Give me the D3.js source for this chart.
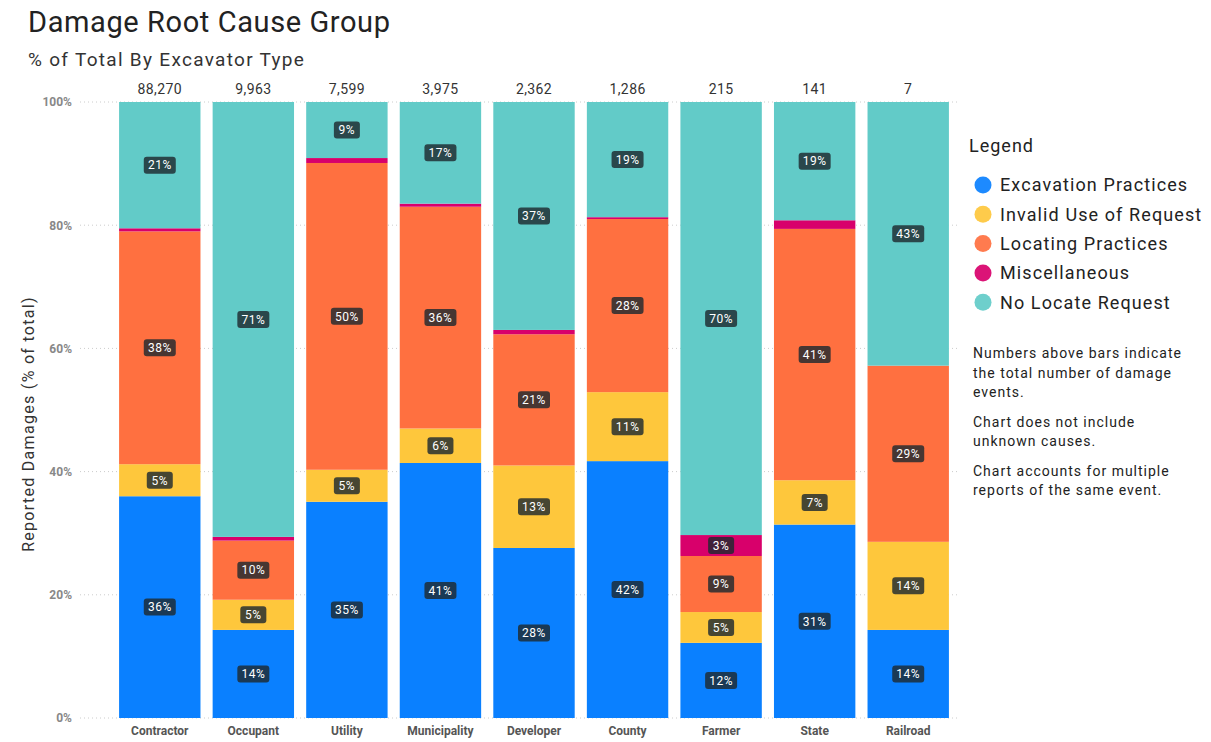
<!DOCTYPE html>
<html><head><meta charset="utf-8">
<script src="https://cdn.jsdelivr.net/npm/d3@7"></script>
<style>body{margin:0;background:#fff;}svg{display:block;font-family:Roboto,"DejaVu Sans",sans-serif;}</style>
</head><body><svg id="c" width="1211" height="742"></svg>
<script>
const categories = ["Contractor","Occupant","Utility","Municipality","Developer","County","Farmer","State","Railroad"];
const totals = ["88,270","9,963","7,599","3,975","2,362","1,286","215","141","7"];
const seriesNames = ["Excavation Practices","Invalid Use of Request","Locating Practices","Miscellaneous","No Locate Request"];
const excavation = [36.0,14.3,35.1,41.4,27.6,41.7,12.2,31.4,14.3];
const invalidUse = [5.2,4.9,5.2,5.6,13.4,11.2,5.0,7.2,14.3];
const locating   = [37.8,9.6,49.8,36.0,21.3,28.1,9.1,40.8,28.6];
const misc       = [0.5,0.6,0.8,0.5,0.7,0.3,3.4,1.4,0.0];
const noLocate   = [20.5,70.6,9.1,16.5,37.0,18.7,70.3,19.2,42.8];
const yTicks = [0,20,40,60,80,100];
const notes = [["Numbers above bars indicate","the total number of damage","events."],["Chart does not include","unknown causes."],["Chart accounts for multiple","reports of the same event."]];
const colors = ["#0A80FF","#FEC73C","#FF7040","#D8006B","#62CBC8"];

const seriesVals = [excavation,invalidUse,locating,misc,noLocate];
const rows = categories.map((c,i)=>{const o={cat:c}; seriesNames.forEach((s,j)=>o[s]=seriesVals[j][i]); return o;});
const stack = d3.stack().keys(seriesNames)(rows);

const svg = d3.select("#c");
const x = d3.scaleBand().domain(categories).range([113,955]).paddingInner(0.13).paddingOuter(0.065);
const y = d3.scaleLinear().domain([0,100]).range([718,102]);

// title
svg.append("text").attr("x",28).attr("y",32).attr("font-size",29).attr("letter-spacing",0.6).attr("fill","#222").text("Damage Root Cause Group");
svg.append("text").attr("x",28).attr("y",66).attr("font-size",19).attr("letter-spacing",1.3).attr("fill","#333").text("% of Total By Excavator Type");

// grid
const g = svg.append("g");
g.selectAll("line.grid").data(yTicks).join("line")
 .attr("x1",80).attr("x2",960).attr("y1",d=>y(d)).attr("y2",d=>y(d))
 .attr("stroke","#ccc").attr("stroke-dasharray","1,3");
const yAxis = d3.axisLeft(y).tickValues(yTicks).tickFormat(d=>d+"%").tickSize(0).tickPadding(0);
const ya = svg.append("g").attr("transform","translate(72,0)").call(yAxis);
ya.select(".domain").remove();
ya.selectAll("text").attr("font-size",12).attr("font-weight","bold").attr("fill","#888").attr("font-family","Roboto,sans-serif");

svg.append("text").attr("transform","translate(34,424) rotate(-90)").attr("text-anchor","middle")
 .attr("font-size",16).attr("letter-spacing",1.3).attr("fill","#333").text("Reported Damages (% of total)");

// bars
const layers = svg.append("g").selectAll("g").data(stack).join("g").attr("fill",(d,i)=>colors[i]);
layers.selectAll("rect").data(d=>d).join("rect")
 .attr("x",d=>x(d.data.cat)).attr("width",x.bandwidth())
 .attr("y",d=>y(d[1])).attr("height",d=>Math.max(0,y(d[0])-y(d[1])));

// labels
const labs = [];
stack.forEach((s,si)=>s.forEach(d=>{const v=d[1]-d[0]; if(v>=2) labs.push({cat:d.data.cat,v,mid:(d[0]+d[1])/2});}));
const lg = svg.append("g").selectAll("g").data(labs).join("g")
 .attr("transform",d=>`translate(${x(d.cat)+x.bandwidth()/2},${y(d.mid)})`);
lg.append("rect").attr("x",d=>Math.round(d.v)>=10?-16:-13).attr("width",d=>Math.round(d.v)>=10?32:26)
 .attr("y",-8.5).attr("height",17).attr("rx",3).attr("fill","#1e2a30").attr("fill-opacity",0.82);
lg.append("text").attr("text-anchor","middle").attr("dy","0.36em").attr("font-size",12).attr("letter-spacing",0.5).attr("fill","#fff")
 .text(d=>Math.round(d.v)+"%");

// totals
svg.append("g").selectAll("text").data(categories).join("text")
 .attr("x",d=>x(d)+x.bandwidth()/2).attr("y",94).attr("text-anchor","middle").attr("font-size",14).attr("letter-spacing",0.4).attr("fill","#333")
 .text((d,i)=>totals[i]);

// x axis
const xa = svg.append("g").attr("transform","translate(0,718)").call(d3.axisBottom(x).tickSize(0).tickPadding(8));
xa.select(".domain").remove();
xa.selectAll("text").attr("font-size",12).attr("font-weight","bold").attr("fill","#555").attr("font-family","Roboto,sans-serif");

// legend
svg.append("text").attr("x",969).attr("y",152).attr("font-size",18).attr("letter-spacing",1).attr("fill","#222").text("Legend");
const li = svg.append("g").selectAll("g").data(seriesNames).join("g")
 .attr("transform",(d,i)=>`translate(983,${185+i*29.3})`);
li.append("circle").attr("r",8.5).attr("fill",(d,i)=>colors[i]).attr("fill-opacity",0.92);
li.append("text").attr("x",17).attr("dy","0.35em").attr("font-size",18).attr("letter-spacing",1.1).attr("fill","#222").text(d=>d);

let ny = 358;
notes.forEach(block=>{
  block.forEach(line=>{svg.append("text").attr("x",973).attr("y",ny).attr("font-size",14).attr("letter-spacing",1).attr("fill","#222").text(line); ny+=19.5;});
  ny += 10;
});
</script></body></html>
